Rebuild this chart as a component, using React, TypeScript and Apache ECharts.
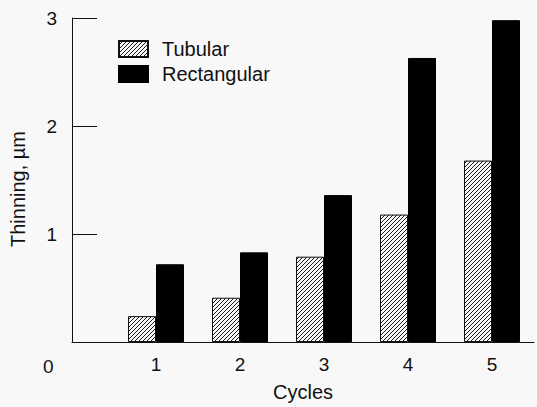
import React, { useEffect, useRef } from "react";
import * as echarts from "echarts";

const cycles = [1, 2, 3, 4, 5];
const tubular = [0.24, 0.41, 0.79, 1.18, 1.68];
const rectangular = [0.72, 0.83, 1.36, 2.63, 2.98];
const yTicks = [0, 1, 2, 3];

function makeHatch(): HTMLCanvasElement {
  const s = 4;
  const c = document.createElement("canvas");
  c.width = s;
  c.height = s;
  const ctx = c.getContext("2d")!;
  ctx.fillStyle = "#f6f6f6";
  ctx.fillRect(0, 0, s, s);
  ctx.strokeStyle = "#1a1a1a";
  ctx.lineWidth = 1;
  ctx.beginPath();
  ctx.moveTo(-1, s + 1);
  ctx.lineTo(s + 1, -1);
  ctx.moveTo(-1, 1);
  ctx.lineTo(1, -1);
  ctx.moveTo(s - 1, s + 1);
  ctx.lineTo(s + 1, s - 1);
  ctx.stroke();
  return c;
}

export default function App() {
  const ref = useRef<HTMLDivElement>(null);
  useEffect(() => {
    document.body.style.margin = "0";
    const chart = echarts.init(ref.current!, null, { renderer: "svg" });
    const font = "Liberation Sans, Arial, Helvetica, sans-serif";
    const hatch = { image: makeHatch(), repeat: "repeat" as const };
    chart.setOption({
      animation: false,
      backgroundColor: "#f8f8f8",
      textStyle: { fontFamily: font, color: "#111" },
      grid: { left: 69, right: 0, top: 18, bottom: 63 },
      legend: {
        orient: "vertical",
        left: 113,
        top: 34,
        itemWidth: 29,
        itemHeight: 16,
        itemGap: 5,
        icon: "rect",
        textStyle: { fontSize: 20, color: "#111", fontFamily: font, padding: [0, 0, 0, 9] },
        data: ["Tubular", "Rectangular"],
      },
      xAxis: {
        type: "value",
        min: 0,
        max: 5.5,
        interval: 1,
        name: "Cycles",
        nameLocation: "middle",
        nameGap: 40,
        nameTextStyle: { fontSize: 20, color: "#111", fontFamily: font },
        axisLine: { show: true, lineStyle: { color: "#111", width: 1 } },
        axisTick: { show: false },
        splitLine: { show: false },
        axisLabel: {
          fontSize: 19,
          color: "#111",
          margin: 13,
          formatter: (v: number) => (cycles.indexOf(v) >= 0 ? String(v) : ""),
        },
      },
      yAxis: {
        type: "value",
        min: 0,
        max: 3,
        interval: 1,
        name: "Thinning, µm",
        nameLocation: "middle",
        nameGap: 44,
        nameTextStyle: { fontSize: 20, color: "#111", fontFamily: font, padding: [0, 18, 0, 0] },
        axisLine: { show: true, lineStyle: { color: "#111", width: 1 } },
        axisTick: { show: true, inside: true, length: 25, lineStyle: { color: "#111" } },
        splitLine: { show: false },
        axisLabel: {
          fontSize: 19,
          color: "#111",
          margin: 15,
          formatter: (v: number) => (v === 0 ? "" : String(yTicks[v])),
        },
      },
      graphic: [
        {
          type: "text",
          left: 43,
          top: 357,
          style: { text: "0", fontSize: 19, fill: "#111", fontFamily: font },
        },
      ],
      series: [
        {
          name: "Tubular",
          type: "bar",
          barWidth: 28,
          barGap: "0%",
          data: cycles.map((c, i) => [c, tubular[i]]),
          itemStyle: { color: hatch, borderColor: "#111", borderWidth: 1 },
        },
        {
          name: "Rectangular",
          type: "bar",
          barWidth: 28,
          barGap: "0%",
          data: cycles.map((c, i) => [c, rectangular[i]]),
          itemStyle: { color: "#000", borderColor: "#000", borderWidth: 1 },
        },
      ],
    });
    return () => chart.dispose();
  }, []);
  return <div ref={ref} style={{ width: 537, height: 407, position: "absolute", left: 0, top: 0 }} />;
}
